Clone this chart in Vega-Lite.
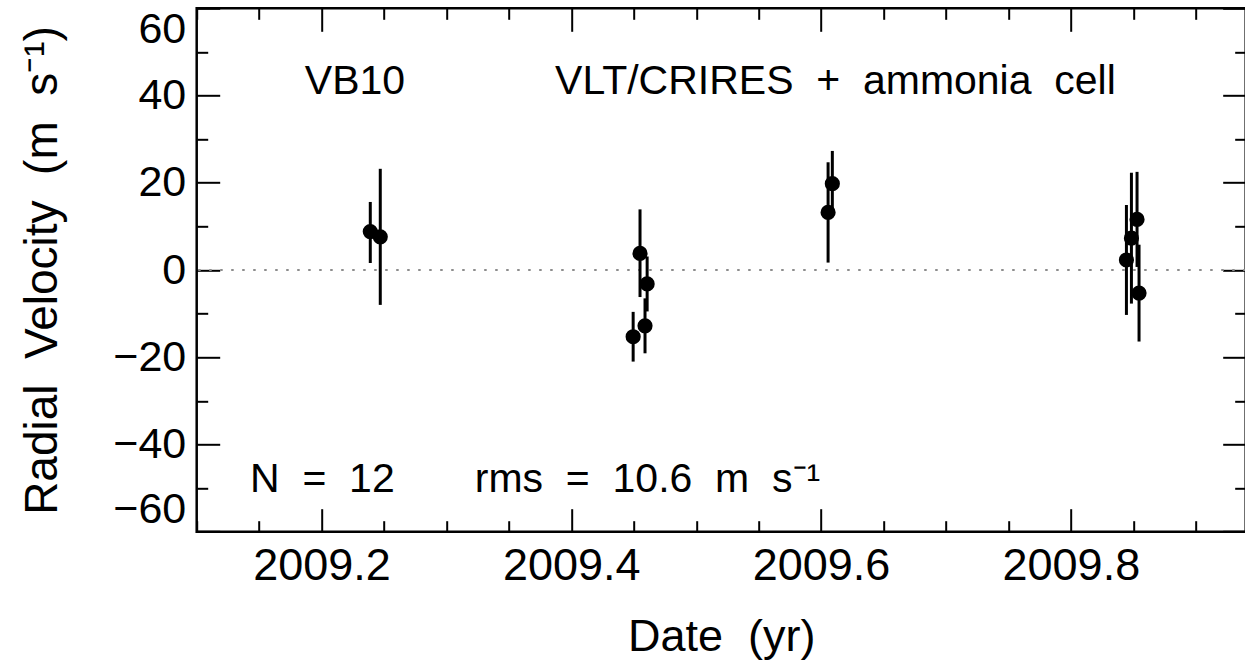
{
  "$schema": "https://vega.github.io/schema/vega-lite/v6.json",
  "width": 1049,
  "height": 523.4,
  "autosize": {"type": "none"},
  "padding": {"left": 196.7, "top": 8.3, "right": 0, "bottom": 132.3},
  "background": "white",
  "config": {
    "view": {"stroke": "black", "strokeWidth": 2.5},
    "font": "Liberation Sans",
    "axis": {"grid": false, "domain": false, "tickColor": "black", "tickWidth": 2, "labelColor": "black", "titleColor": "black", "labelFont": "Liberation Sans", "titleFont": "Liberation Sans", "titleFontWeight": "normal"}
  },
  "datasets": {
    "rv": [
      {"date": 2009.239, "rv": 8.8, "lo": 1.6, "hi": 15.6},
      {"date": 2009.247, "rv": 7.6, "lo": -8.0, "hi": 23.2},
      {"date": 2009.4495, "rv": -15.3, "lo": -21.0, "hi": -9.6},
      {"date": 2009.455, "rv": 3.8, "lo": -6.2, "hi": 13.9},
      {"date": 2009.459, "rv": -12.8, "lo": -19.1, "hi": -6.5},
      {"date": 2009.4607, "rv": -3.2, "lo": -9.5, "hi": 3.1},
      {"date": 2009.6056, "rv": 13.2, "lo": 1.7, "hi": 24.7},
      {"date": 2009.609, "rv": 19.8, "lo": 12.3, "hi": 27.3},
      {"date": 2009.8445, "rv": 2.3, "lo": -10.3, "hi": 14.9},
      {"date": 2009.8485, "rv": 7.3, "lo": -7.7, "hi": 22.3},
      {"date": 2009.853, "rv": 11.6, "lo": 0.7, "hi": 22.5},
      {"date": 2009.8546, "rv": -5.3, "lo": -16.4, "hi": 5.8}
    ],
    "notes": [
      {"x": 2009.1866, "y": 43.1, "label": "VB10"},
      {"x": 2009.387, "y": 43.1, "label": "VLT/CRIRES\u00a0\u00a0+\u00a0\u00a0ammonia\u00a0\u00a0cell"},
      {"x": 2009.1427, "y": -48.1, "label": "N\u00a0\u00a0=\u00a0\u00a012"},
      {"x": 2009.3227, "y": -48.1, "label": "rms\u00a0\u00a0=\u00a0\u00a010.6\u00a0\u00a0m\u00a0\u00a0s⁻¹"}
    ]
  },
  "layer": [
    {
      "data": {"values": [{"zero": 0}]},
      "mark": {"type": "rule", "color": "#8c8c8c", "strokeWidth": 2, "strokeDash": [2.5, 8.5]},
      "encoding": {
        "y": {"field": "zero", "type": "quantitative", "scale": {"domain": [-60, 60], "nice": false, "zero": false}, "axis": null}
      }
    },
    {
      "data": {"name": "rv"},
      "mark": {"type": "rule", "color": "black", "strokeWidth": 3},
      "encoding": {
        "x": {
          "field": "date", "type": "quantitative",
          "scale": {"domain": [2009.1, 2009.94], "nice": false, "zero": false},
          "axis": {
            "orient": "bottom",
            "values": [2009.1, 2009.15, 2009.2, 2009.25, 2009.3, 2009.35, 2009.4, 2009.45, 2009.5, 2009.55, 2009.6, 2009.65, 2009.7, 2009.75, 2009.8, 2009.85, 2009.9],
            "tickSize": {"condition": {"test": "round(datum.value*20)%4==0", "value": -23}, "value": -11},
            "labelExpr": "round(datum.value*20)%4==0 ? format(datum.value,'.1f') : ''",
            "labelFontSize": 45,
            "labelPadding": 35,
            "labelFlush": false,
            "labelOverlap": false,
            "title": "Date\u00a0\u00a0(yr)",
            "titleFontSize": 45,
            "titlePadding": 14
          }
        },
        "y": {
          "field": "lo", "type": "quantitative",
          "scale": {"domain": [-60, 60], "nice": false, "zero": false},
          "axis": {
            "orient": "left",
            "values": [-60, -50, -40, -30, -20, -10, 0, 10, 20, 30, 40, 50, 60],
            "tickSize": {"condition": {"test": "datum.value%20==0", "value": -23}, "value": -11},
            "labelExpr": "datum.value%20==0 ? (datum.value<0 ? '−'+abs(datum.value) : ''+datum.value) : ''",
            "labelFontSize": 43,
            "labelPadding": 34,
            "labelFlush": true,
            "labelOverlap": false,
            "title": "Radial\u00a0\u00a0Velocity\u00a0\u00a0(m\u00a0\u00a0s⁻¹)",
            "titleFontSize": 46,
            "titlePadding": 46
          }
        },
        "y2": {"field": "hi"}
      }
    },
    {
      "data": {"name": "rv"},
      "mark": {"type": "circle", "color": "black", "opacity": 1, "size": 230},
      "encoding": {
        "x": {
          "field": "date", "type": "quantitative",
          "scale": {"domain": [2009.1, 2009.94], "nice": false, "zero": false},
          "axis": {
            "orient": "top",
            "values": [2009.1, 2009.15, 2009.2, 2009.25, 2009.3, 2009.35, 2009.4, 2009.45, 2009.5, 2009.55, 2009.6, 2009.65, 2009.7, 2009.75, 2009.8, 2009.85, 2009.9],
            "tickSize": {"condition": {"test": "round(datum.value*20)%4==0", "value": -23}, "value": -11},
            "labels": false,
            "title": null
          }
        },
        "y": {
          "field": "rv", "type": "quantitative",
          "scale": {"domain": [-60, 60], "nice": false, "zero": false},
          "axis": {
            "orient": "right",
            "values": [-60, -50, -40, -30, -20, -10, 0, 10, 20, 30, 40, 50, 60],
            "tickSize": {"condition": {"test": "datum.value%20==0", "value": -23}, "value": -11},
            "labels": false,
            "title": null
          }
        }
      }
    },
    {
      "data": {"name": "notes"},
      "mark": {"type": "text", "align": "left", "baseline": "middle", "fontSize": 41, "font": "Liberation Sans", "color": "black"},
      "encoding": {
        "x": {"field": "x", "type": "quantitative", "axis": null},
        "y": {"field": "y", "type": "quantitative", "axis": null},
        "text": {"field": "label"}
      }
    }
  ],
  "resolve": {"axis": {"x": "independent", "y": "independent"}}
}
